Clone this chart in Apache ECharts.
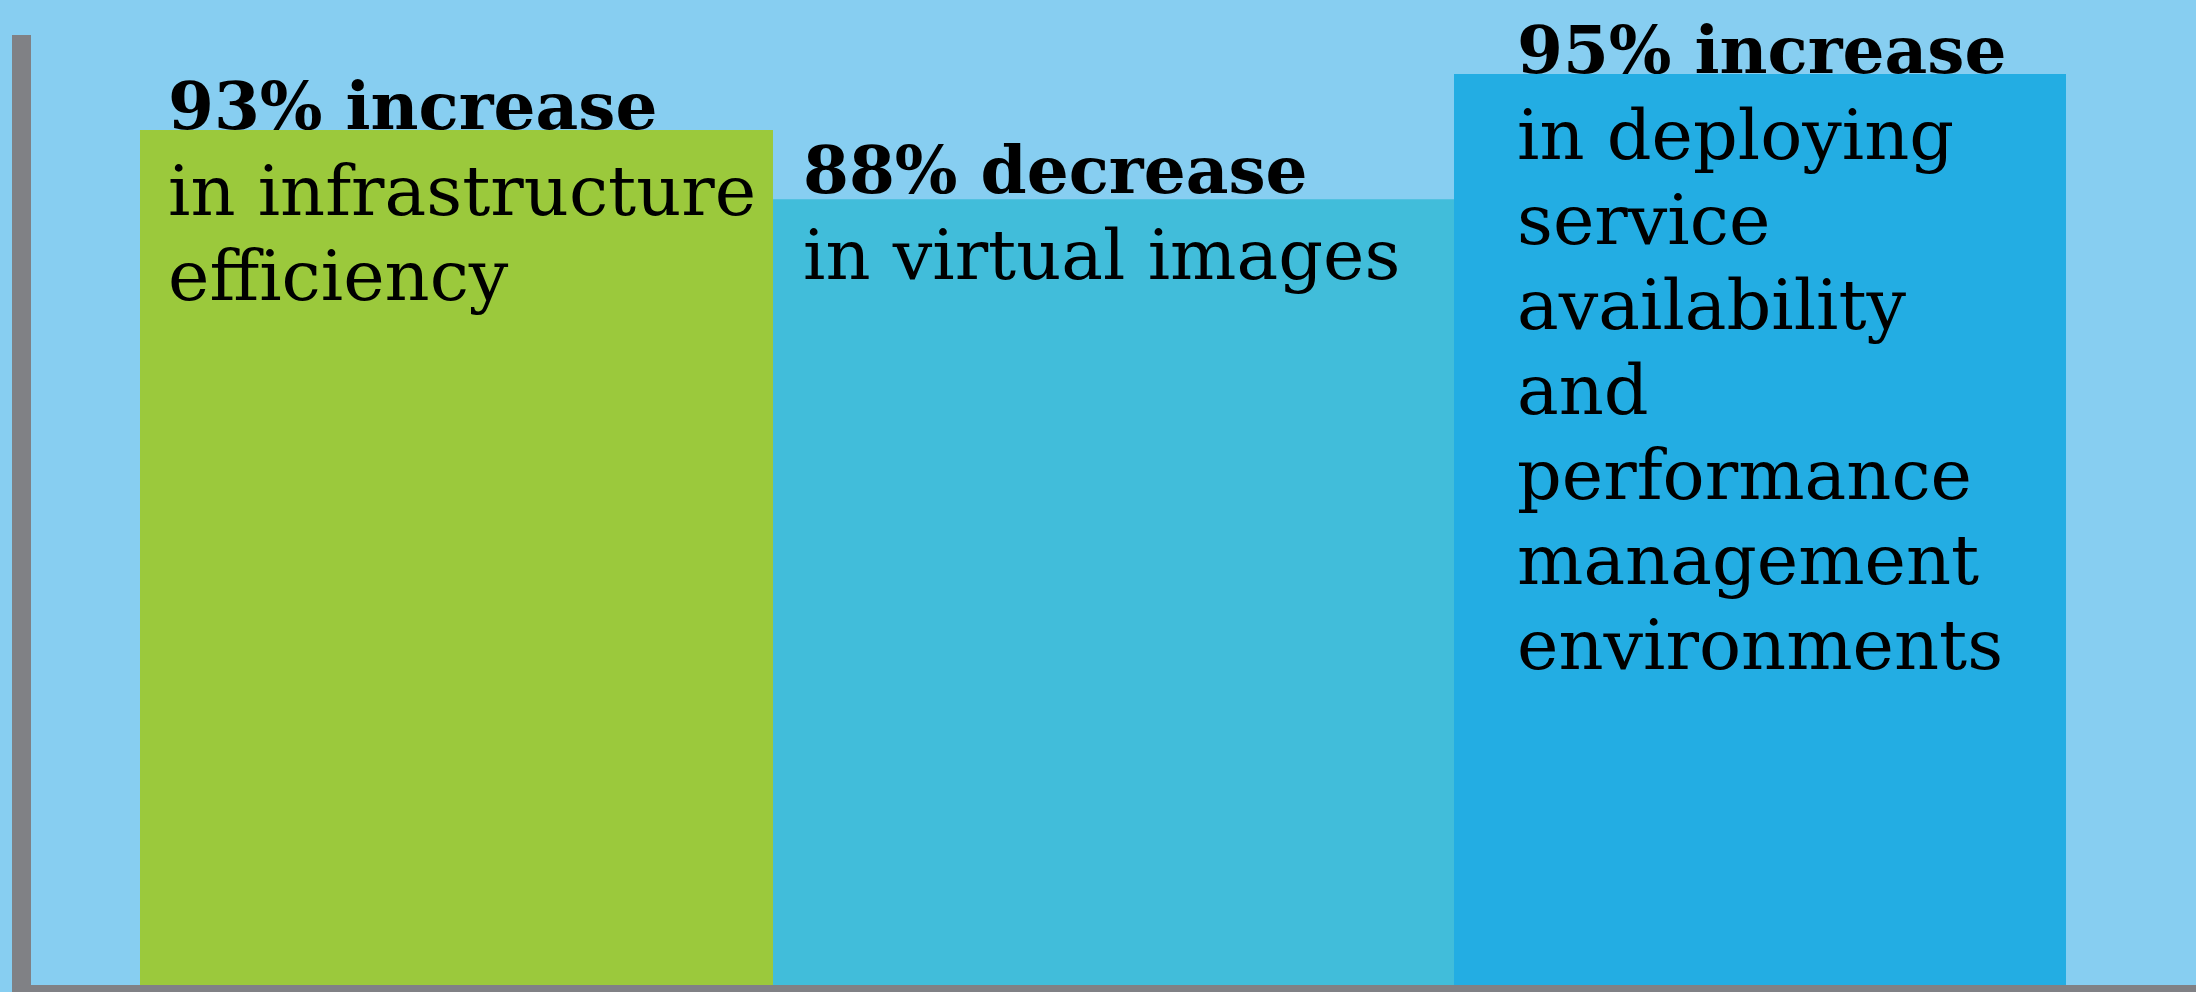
<!DOCTYPE html>
<html>
<head>
<meta charset="utf-8">
<script src="https://cdn.jsdelivr.net/npm/echarts@6/dist/echarts.min.js"></script>
<style>
  html, body { margin: 0; padding: 0; background: #87CEF1; }
  #chart { width: 2196px; height: 992px; }
</style>
</head>
<body>
<div id="chart"></div>
<script>
// ---- data ----
const categories = ['Infrastructure efficiency', 'Virtual images', 'Service availability & performance management'];
const barHeights = [90.0, 82.7, 95.9];           // bar heights (axis 0–100)
const headlines = ['93% increase', '88% decrease', '95% increase'];
const descriptions = [
  ['in infrastructure', 'efficiency'],
  ['in virtual images'],
  ['in deploying', 'service', 'availability', 'and', 'performance', 'management', 'environments']
];

// ---- style / layout ----
const barColors = ['#9BC93C', '#41BDDA', '#23ADE3'];
const gridEdges = [140, 773, 1454, 2066];
const labelInset = [[28, -60], [30, -65], [63, -60]];

const chart = echarts.init(document.getElementById('chart'), null, { renderer: 'canvas' });

const grids = [], xAxes = [], yAxes = [], series = [];
categories.forEach((cat, i) => {
  grids.push({ left: gridEdges[i], width: gridEdges[i + 1] - gridEdges[i], top: 35, bottom: 7, containLabel: false });
  xAxes.push({ type: 'category', gridIndex: i, data: [cat], show: false, boundaryGap: true });
  yAxes.push({ type: 'value', gridIndex: i, min: 0, max: 100, show: false });
  series.push({
    type: 'bar',
    xAxisIndex: i,
    yAxisIndex: i,
    barWidth: '100%',
    data: [barHeights[i]],
    itemStyle: { color: barColors[i] },
    emphasis: { disabled: true },
    z: 2,
    label: {
      show: true,
      position: labelInset[i],
      align: 'left',
      verticalAlign: 'top',
      formatter: () => '{h|' + headlines[i] + '}\n' + descriptions[i].map(s => '{d|' + s + '}').join('\n'),
      rich: {
        h: { fontFamily: 'DejaVu Serif', fontWeight: 'bold', fontSize: 66, lineHeight: 84, color: '#000' },
        d: { fontFamily: 'DejaVu Serif', fontWeight: 'normal', fontSize: 70, lineHeight: 85, color: '#000' }
      }
    }
  });
});

// axis frame grid (the grey L-shaped axis lines)
grids.push({ left: 21.5, right: 0, top: 35, bottom: 0 });
xAxes.push({
  type: 'value', gridIndex: 3, min: 0, max: 1, z: 10,
  axisLine: { show: true, lineStyle: { color: '#808185', width: 14 } },
  axisTick: { show: false }, axisLabel: { show: false }, splitLine: { show: false }
});
yAxes.push({
  type: 'value', gridIndex: 3, min: 0, max: 1, z: 10,
  axisLine: { show: true, lineStyle: { color: '#808185', width: 19, cap: 'butt' } },
  axisTick: { show: false }, axisLabel: { show: false }, splitLine: { show: false }
});

chart.setOption({
  backgroundColor: '#87CEF1',
  animation: false,
  grid: grids,
  xAxis: xAxes,
  yAxis: yAxes,
  series: series
});
</script>
</body>
</html>
